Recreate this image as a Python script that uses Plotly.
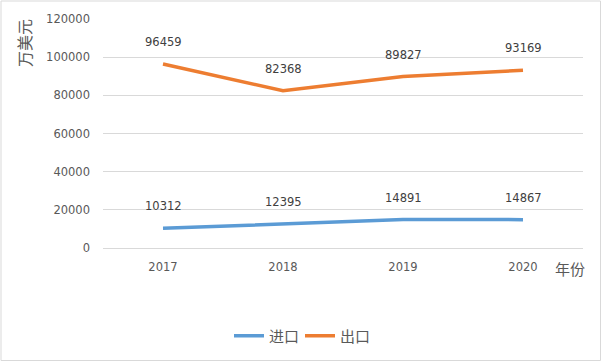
import plotly.graph_objects as go

years = ["2017", "2018", "2019", "2020"]
imports = [10312, 12395, 14891, 14867]
exports = [96459, 82368, 89827, 93169]
series_names = ["进口", "出口"]
colors = ["#5B9BD5", "#ED7D31"]

W, H = 602, 362
L, R, T, B = 103, 19, 19, 114
pw, ph = W - L - R, H - T - B

FONT = "Noto Sans CJK SC, Noto Sans, sans-serif"
NUMFONT = "DejaVu Sans, sans-serif"

fig = go.Figure()
for name, vals, c in zip(series_names, [imports, exports], colors):
    fig.add_trace(go.Scatter(x=years, y=vals, name=name, mode="lines",
                             line=dict(color=c, width=3.5)))

annotations = []
for vals in (imports, exports):
    for i, v in enumerate(vals):
        annotations.append(dict(x=i, y=v, xref="x", yref="y", text=str(v), showarrow=False,
                                yshift=22, font=dict(size=11.5, color="#404040", family=NUMFONT)))

annotations.append(dict(xref="paper", yref="paper", x=-79 / pw, y=1 - 24 / ph,
                        text="万美元", textangle=-90, showarrow=False,
                        xanchor="center", yanchor="middle",
                        font=dict(size=16, color="#595959", family=FONT)))
annotations.append(dict(xref="paper", yref="paper", x=(570 - L) / pw, y=-(268 - (T + ph)) / ph,
                        text="年份", showarrow=False, xanchor="center", yanchor="middle",
                        font=dict(size=15, color="#595959", family=FONT)))

fig.update_layout(
    width=W, height=H,
    margin=dict(l=L, r=R, t=T, b=B, autoexpand=False),
    paper_bgcolor="white", plot_bgcolor="white",
    font=dict(family=FONT, color="#595959", size=12),
    showlegend=True,
    legend=dict(orientation="h", x=(300 - L) / pw, xanchor="center", y=-(336 - (T + ph)) / ph,
                yanchor="middle", font=dict(size=15, color="#595959", family=FONT),
                itemwidth=30, tracegroupgap=0, entrywidth=26, entrywidthmode="pixels"),
    annotations=annotations,
    shapes=[dict(type="rect", xref="paper", yref="paper",
                 x0=-(L - 1) / pw, x1=1 + (R - 1.5) / pw,
                 y0=-(B - 1.5) / ph, y1=1 + (T - 1) / ph,
                 line=dict(color="#D9D9D9", width=1), fillcolor="rgba(0,0,0,0)", layer="below")],
)
fig.update_xaxes(type="category", range=[-0.5, 3.5], automargin=False, showgrid=False,
                 showline=False, zeroline=False,
                 ticks="", ticklabelstandoff=10, tickfont=dict(size=11.5, color="#595959", family=NUMFONT))
fig.update_yaxes(range=[0, 120000], dtick=20000, automargin=False, showgrid=True, gridcolor="#D9D9D9",
                 gridwidth=1, zeroline=True, zerolinecolor="#D9D9D9", zerolinewidth=1,
                 showline=False, ticks="", tickformat="d", ticklabelstandoff=12,
                 tickfont=dict(size=11.5, color="#595959", family=NUMFONT))

fig.write_html("out.html", config={"displayModeBar": False},
               post_script="document.body.style.margin='0';")
